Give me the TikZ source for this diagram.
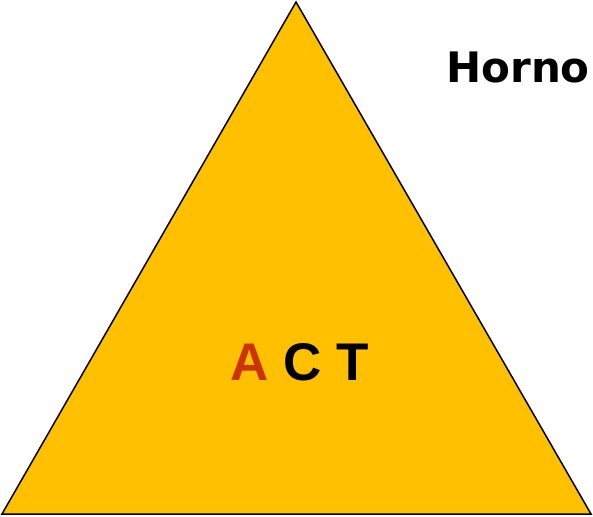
\documentclass[tikz,border=0pt]{standalone}
\usepackage{fontspec}
\newfontfamily\hornofont{DejaVu Sans}
\newfontfamily\actfont{Liberation Sans}
\definecolor{tri}{HTML}{FFC000}
\definecolor{ared}{HTML}{CC3300}
\begin{document}
\begin{tikzpicture}[x=1pt,y=-1pt,
  lbl/.style={inner sep=0pt,anchor=base}]
\useasboundingbox (0,0) rectangle (593,516);
\coordinate (top) at (296,2);
\coordinate (bl) at (2,514);
\coordinate (br) at (591,514);
\draw[fill=tri,line width=1.5pt,line join=miter] (top) -- (bl) -- (br) -- cycle;
\node[lbl,anchor=base east] (horno) at (590,83) {\hornofont\bfseries\fontsize{42}{50}\selectfont Horno};
\node[lbl] (act) at (300,380) {\actfont\bfseries\fontsize{53}{60}\selectfont\textcolor{ared}{A} C T};
\end{tikzpicture}
\end{document}
